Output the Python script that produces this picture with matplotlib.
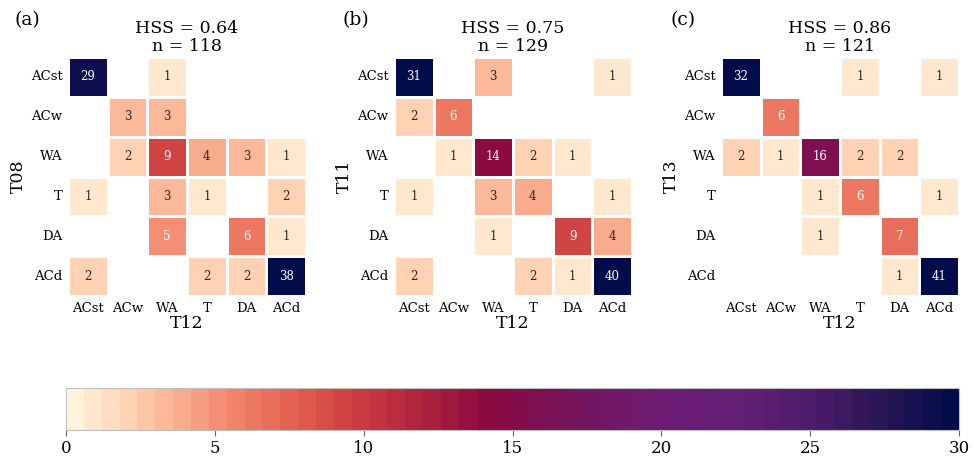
import matplotlib
matplotlib.use("Agg")
import matplotlib.pyplot as plt
import numpy as np
import seaborn as sns
from matplotlib.colors import LinearSegmentedColormap
from matplotlib.cm import ScalarMappable
from matplotlib.colors import Normalize

plt.rcParams['font.family'] = 'DejaVu Serif'

classes = ['ACst', 'ACw', 'WA', 'T', 'DA', 'ACd']

# contingency tables, rows = compared classification, cols = T12
t08 = [[29, 0, 1, 0, 0, 0],
       [0, 3, 3, 0, 0, 0],
       [0, 2, 9, 4, 3, 1],
       [1, 0, 3, 1, 0, 2],
       [0, 0, 5, 0, 6, 1],
       [2, 0, 0, 2, 2, 38]]
t11 = [[31, 0, 3, 0, 0, 1],
       [2, 6, 0, 0, 0, 0],
       [0, 1, 14, 2, 1, 0],
       [1, 0, 3, 4, 0, 1],
       [0, 0, 1, 0, 9, 4],
       [2, 0, 0, 2, 1, 40]]
t13 = [[32, 0, 0, 1, 0, 1],
       [0, 6, 0, 0, 0, 0],
       [2, 1, 16, 2, 2, 0],
       [0, 0, 1, 6, 0, 1],
       [0, 0, 1, 0, 7, 0],
       [0, 0, 0, 0, 1, 41]]

tables = [t08, t11, t13]
row_names = ['T08', 'T11', 'T13']
hss = [0.64, 0.75, 0.86]
panel_tags = ['(a)', '(b)', '(c)']

vmax = 30
# cream -> salmon -> red -> crimson -> purple -> navy, 50 discrete steps
stops = [0, 2.5, 5, 7.5, 10, 12.5, 14, 15, 17.5, 20, 22.5, 25, 27.5, 30]
stop_colors = ['#fff3dc', '#fdc6a4', '#f48c72', '#e3604f', '#c8373f', '#a51c3e',
               '#8c0a40', '#840c48', '#74155f', '#6d1b73', '#631f75', '#4f1c6e',
               '#2c1656', '#020c4a']
cmap = LinearSegmentedColormap.from_list(
    'matter_like', list(zip(np.array(stops) / vmax, stop_colors)), N=50)

fig = plt.figure(figsize=(9.74, 4.57), dpi=100)

lefts = [68, 394, 721]
tag_x = [15, 343, 670]
W, H = 974, 457
for i, tab in enumerate(tables):
    ax = fig.add_axes([lefts[i] / W, (H - 296) / H, 238 / W, 239 / H])
    data = np.array(tab)
    sns.heatmap(data, ax=ax, cmap=cmap, vmin=0, vmax=vmax, mask=data == 0,
                annot=True, fmt='d', annot_kws={'size': 8.5},
                linewidths=1, linecolor='white', cbar=False,
                xticklabels=classes, yticklabels=classes, square=False)
    ax.tick_params(length=0, labelsize=9.5, pad=4)
    plt.setp(ax.get_yticklabels(), rotation=0)
    ax.set_xlabel('T12', fontsize=12.5, labelpad=0)
    ax.set_ylabel(row_names[i], fontsize=12.5, labelpad=3)
    ax.set_title('HSS = %.2f\nn = %d' % (hss[i], data.sum()), fontsize=12.5,
                 pad=4, linespacing=1.1)
    fig.text(tag_x[i] / W, 1 - 20 / H, panel_tags[i], fontsize=13.5,
             ha='left', va='center')

cax = fig.add_axes([66 / W, (H - 430) / H, 893 / W, 42 / H])
sm = ScalarMappable(norm=Normalize(0, vmax), cmap=cmap)
cb = fig.colorbar(sm, cax=cax, orientation='horizontal', ticks=range(0, 31, 5))
cb.outline.set_edgecolor('0.75')
cb.outline.set_linewidth(0.8)
cax.tick_params(labelsize=12, color='0.4', length=4)

fig.savefig('out.png', dpi=100)
